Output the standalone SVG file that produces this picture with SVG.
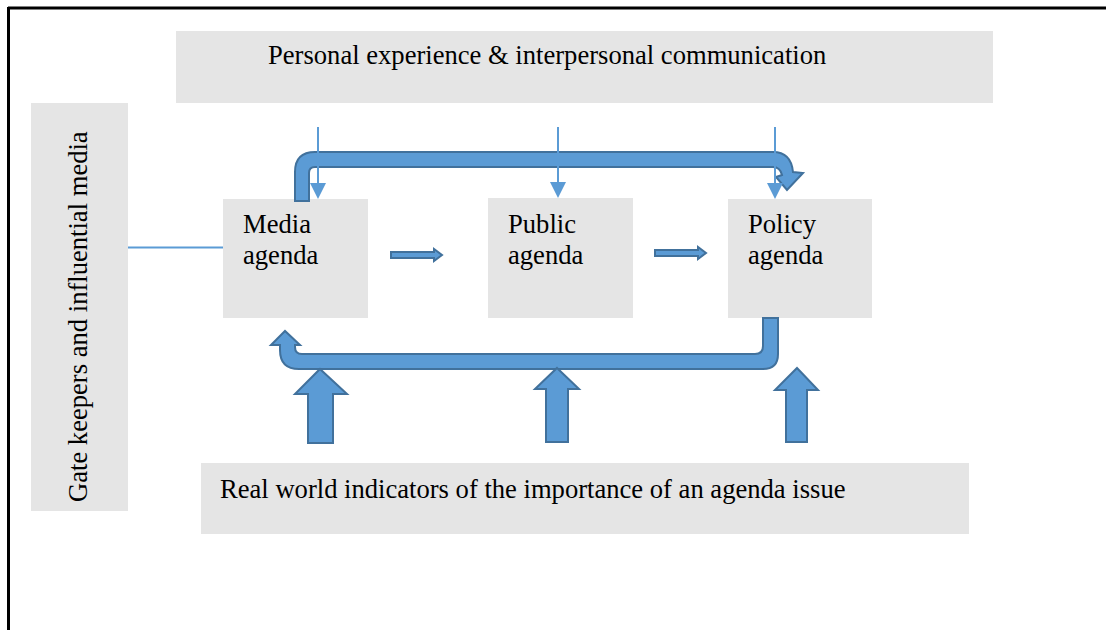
<svg xmlns="http://www.w3.org/2000/svg" width="1106" height="630" viewBox="0 0 1106 630">
<style>
.box{fill:#e5e5e5}
.t{font-family:"Liberation Serif","Times New Roman",serif;font-size:26.6px;fill:#000}
.blk{fill:#5b9bd5;stroke:#41719c;stroke-width:2;stroke-linejoin:miter}
.thin{stroke:#5b9bd5;stroke-width:2;fill:none}
.head{fill:#5b9bd5}
</style>
<rect width="1106" height="630" fill="#fff"/>
<g id="frame">
<line x1="8" y1="8" x2="1106" y2="8" stroke="#000" stroke-width="3"/>
<line x1="8.5" y1="7" x2="8.5" y2="630" stroke="#000" stroke-width="3"/>
</g>
<g id="personal"><rect class="box" x="176" y="31" width="817" height="72"/><text class="t" x="268" y="64">Personal experience &amp; interpersonal communication</text></g>
<g id="gatekeepers"><rect class="box" x="31" y="103" width="97" height="408"/><text class="t" transform="translate(87,502) rotate(-90)">Gate keepers and influential media</text></g>
<g id="media"><rect class="box" x="223" y="199" width="145" height="119"/><text class="t" x="243" y="233">Media</text><text class="t" x="243" y="264">agenda</text></g>
<g id="public"><rect class="box" x="488" y="198" width="145" height="120"/><text class="t" x="508" y="233">Public</text><text class="t" x="508" y="264">agenda</text></g>
<g id="policy"><rect class="box" x="728" y="199" width="144" height="119"/><text class="t" x="748" y="233">Policy</text><text class="t" x="748" y="264">agenda</text></g>
<g id="realworld"><rect class="box" x="201" y="463" width="768" height="71"/><text class="t" x="220" y="498">Real world indicators of the importance of an agenda issue</text></g>
<g id="connectors">
<line class="thin" x1="128" y1="247.5" x2="223" y2="247.5" stroke-width="1.5"/>
<path class="blk" d="M295,201 V172 Q295,152 315,152 H773 Q791,152 793,172 L803,173 L787,190 L776,177 L782,175 Q780,167 773,167 H315 Q309,167 309,173 V201 Z"/>
<path class="blk" d="M763,318 V346 Q763,354 755,354 H302 Q295,354 295,347 V345 L300,345 L285,331 L271,345 L280,345 V350 Q280,369 299,369 H763 Q778,369 778,354 V318 Z"/>
<path class="blk" d="M320,369 L347,394 L333,394 L333,443 L308,443 L308,394 L295,394 Z"/>
<path class="blk" d="M557,368 L579,389 L568,389 L568,442 L546,442 L546,389 L535,389 Z"/>
<path class="blk" d="M797,368 L818,390 L807,390 L807,442 L786,442 L786,390 L775,390 Z"/>
<path class="blk" d="M391,252 H434 V249 L442,255 L434,261 V258 H391 Z" stroke-width="1.2"/>
<path class="blk" d="M655,250 H698 V247 L706,253 L698,259 V256 H655 Z" stroke-width="1.2"/>
<line class="thin" x1="318" y1="127" x2="318" y2="185"/>
<path class="head" d="M310,183 L326,183 L318,199 Z"/>
<line class="thin" x1="558" y1="127" x2="558" y2="185"/>
<path class="head" d="M550,182 L566,182 L558,198 Z"/>
<line class="thin" x1="775" y1="127" x2="775" y2="185"/>
<path class="head" d="M767,183 L783,183 L775,199 Z"/>
</g>
</svg>
